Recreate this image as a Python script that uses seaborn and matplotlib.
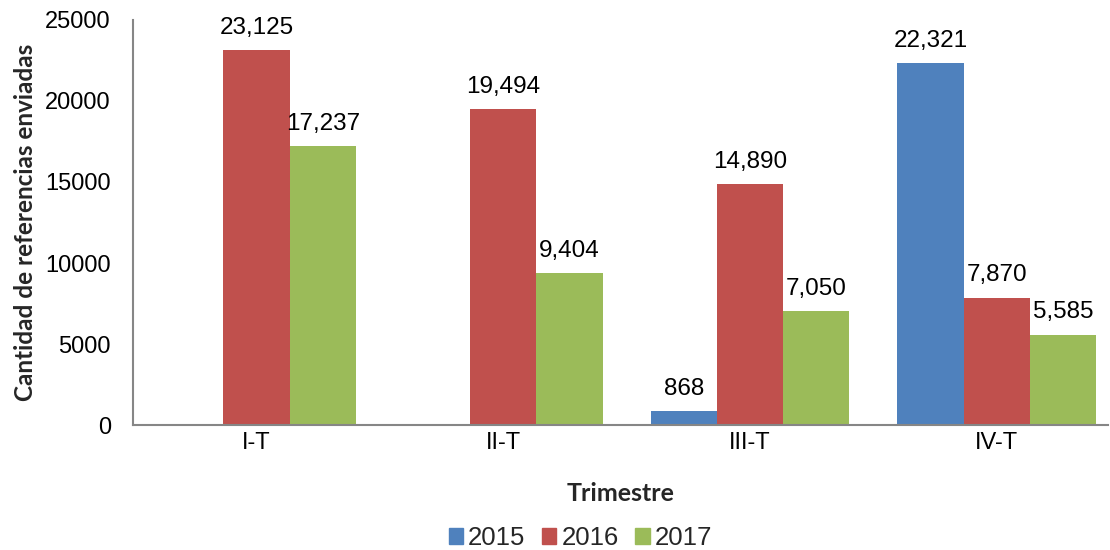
import numpy as np
import pandas as pd
import matplotlib
matplotlib.use("Agg")
import matplotlib.pyplot as plt
import seaborn as sns

# data
trimestres = ["I-T", "II-T", "III-T", "IV-T"]
years = ["2015", "2016", "2017"]
v2015 = [np.nan, np.nan, 868, 22321]
v2016 = [23125, 19494, 14890, 7870]
v2017 = [17237, 9404, 7050, 5585]

BLUE = "#4F81BD"
RED = "#C0504D"
GREEN = "#9BBB59"
GRAY = "#868686"

sns.set_theme(style="white")
plt.rcParams["font.family"] = ["Liberation Sans", "DejaVu Sans"]

df = pd.DataFrame({
    "Trimestre": trimestres * 3,
    "Year": [y for y in years for _ in trimestres],
    "Valor": v2015 + v2016 + v2017,
})

fig = plt.figure(figsize=(11.1, 5.5), dpi=100)
ax = fig.add_axes([0.120, 0.227, 0.878, 0.737])

sns.barplot(data=df, x="Trimestre", y="Valor", hue="Year",
            palette=[BLUE, RED, GREEN], width=0.806, ax=ax,
            saturation=1, linewidth=0, legend=False)

for cont in ax.containers:
    labels = ["" if np.isnan(v) else f"{v:,.0f}" for v in cont.datavalues]
    ax.bar_label(cont, labels=labels, padding=8, fontsize=17.5, color="black")

ax.set_ylim(0, 25000)
ax.set_yticks(range(0, 25001, 5000))
ax.set_xlim(-0.5, 3.45)
ax.tick_params(axis="both", length=0, labelsize=17, colors="black")
ax.tick_params(axis="x", pad=5)
ax.tick_params(axis="y", pad=16)

for side in ["top", "right"]:
    ax.spines[side].set_visible(False)
for side in ["left", "bottom"]:
    ax.spines[side].set_color(GRAY)
    ax.spines[side].set_linewidth(1.5)

ax.set_ylabel("Cantidad de referencias enviadas", fontsize=17.5,
              fontweight="bold", family=["Lato", "DejaVu Sans"], labelpad=6)
ax.set_xlabel("Trimestre", fontsize=18, fontweight="bold",
              family=["Lato", "DejaVu Sans"], labelpad=20)

handles = [plt.Rectangle((0, 0), 1, 1, color=c) for c in [BLUE, RED, GREEN]]
fig.legend(handles, years, loc="lower center", ncol=3, frameon=False,
           fontsize=18.5, bbox_to_anchor=(0.523, -0.042),
           handlelength=0.55, handleheight=0.55, handletextpad=0.2,
           columnspacing=0.65)

plt.savefig("out.png", dpi=100)
